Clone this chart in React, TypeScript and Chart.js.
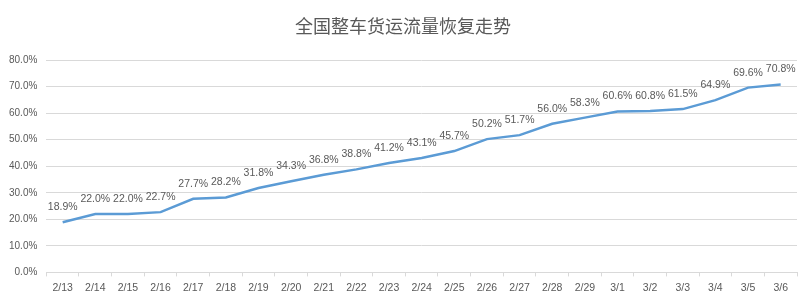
import React, { useEffect, useRef } from "react";
import { Chart, registerables } from "chart.js";

Chart.register(...registerables);

const categories = ["2/13","2/14","2/15","2/16","2/17","2/18","2/19","2/20","2/21","2/22","2/23","2/24","2/25","2/26","2/27","2/28","2/29","3/1","3/2","3/3","3/4","3/5","3/6"];
const recovery = [18.9,22.0,22.0,22.7,27.7,28.2,31.8,34.3,36.8,38.8,41.2,43.1,45.7,50.2,51.7,56.0,58.3,60.6,60.8,61.5,64.9,69.6,70.8];
const titleText = "全国整车货运流量恢复走势";

const labelPlugin = {
  id: "pointLabels",
  afterDatasetsDraw(chart: any) {
    const ctx = chart.ctx;
    const meta = chart.getDatasetMeta(0);
    ctx.save();
    ctx.font = "10.5px 'Liberation Sans', Arial, sans-serif";
    ctx.fillStyle = "#595959";
    ctx.textAlign = "center";
    ctx.textBaseline = "middle";
    meta.data.forEach((pt: any, i: number) => {
      ctx.fillText(recovery[i].toFixed(1) + "%", pt.x, pt.y - 15);
    });
    ctx.fillStyle = "#595959";
    ctx.font = "18px 'Noto Sans CJK SC', sans-serif";
    ctx.fillText(titleText, chart.width / 2, 26);
    ctx.restore();
  },
};

export default function App() {
  const ref = useRef<HTMLCanvasElement>(null);
  useEffect(() => {
    document.body.style.margin = "0";
    const chart = new Chart(ref.current!, {
      type: "line",
      data: {
        labels: categories,
        datasets: [
          {
            data: recovery,
            borderColor: "#5b9bd5",
            borderWidth: 2.5,
            pointRadius: 0,
            tension: 0,
            fill: false,
          },
        ],
      },
      options: {
        animation: false,
        responsive: false,
        layout: { padding: { left: 0, right: 9, top: 60, bottom: 0 } },
        plugins: {
          legend: { display: false },
          tooltip: { enabled: false },
          title: { display: false },
        },
        scales: {
          x: {
            offset: true,
            grid: {
              display: true,
              offset: true,
              drawOnChartArea: false,
              drawTicks: true,
              tickLength: 4,
              color: "#d9d9d9",
            },
            border: { display: true, color: "#d9d9d9", width: 1 },
            ticks: {
              color: "#595959",
              font: { family: "'Liberation Sans', Arial, sans-serif", size: 10.5 },
              maxRotation: 0,
              autoSkip: false,
              padding: 5,
            },
          },
          y: {
            min: 0,
            max: 80,
            grid: { color: "#d9d9d9", drawTicks: false },
            border: { display: false },
            ticks: {
              stepSize: 10,
              color: "#595959",
              font: { family: "'Liberation Sans', Arial, sans-serif", size: 10 },
              padding: 9,
              callback: (v: any) => Number(v).toFixed(1) + "%",
            },
          },
        },
      },
      plugins: [labelPlugin],
    });
    return () => chart.destroy();
  }, []);
  return <canvas ref={ref} width={806} height={299} style={{ display: "block" }} />;
}
